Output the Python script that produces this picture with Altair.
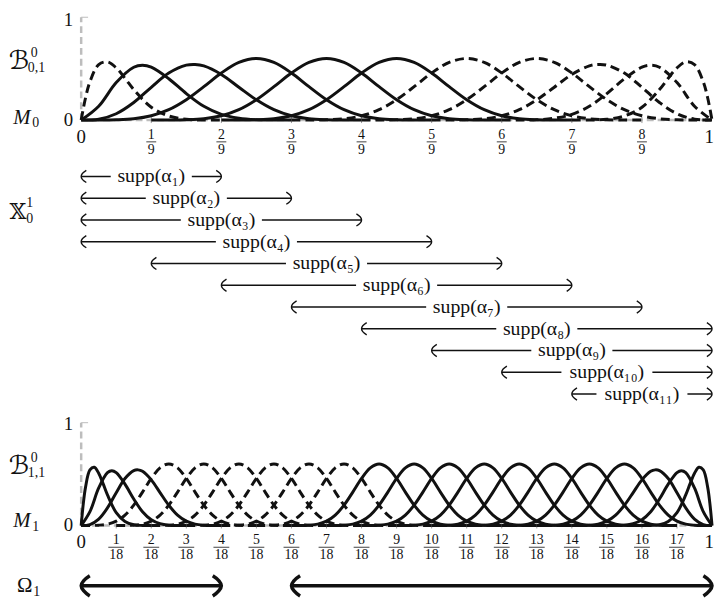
import altair as alt
import pandas as pd

# ---------------- data ----------------
# basis-function shapes: positions in knot units (t) and heights (v)
P1_T = [0, 0.0625, 0.125, 0.25, 0.375, 0.5, 0.625, 0.75, 1, 1.25, 1.5, 1.75, 2]
P1_V = [0, 0.217, 0.373, 0.540, 0.566, 0.508, 0.407, 0.297, 0.125, 0.040, 0.008, 0.0005, 0]
P2_T = [0, 0.25, 0.5, 0.75, 0.875, 1, 1.25, 1.5, 1.75, 2, 2.25, 2.5, 2.75, 3]
P2_V = [0, 0.135, 0.365, 0.514, 0.533, 0.514, 0.402, 0.258, 0.134, 0.056, 0.018, 0.003, 0.0002, 0]
P3_T = [0, 0.25, 0.5, 0.75, 1, 1.25, 1.5, 1.625, 1.75, 2, 2.25, 2.5, 2.75, 3, 3.25, 3.5, 3.75, 4]
P3_V = [0, 0.009, 0.062, 0.171, 0.319, 0.457, 0.534, 0.541, 0.527, 0.444, 0.320, 0.197, 0.101,
        0.042, 0.013, 0.003, 0.0002, 0]
U_T = [0, 0.25, 0.5, 0.75, 1, 1.25, 1.5, 1.75, 2, 2.25, 2.5, 2.75, 3, 3.25, 3.5, 3.75, 4,
       4.25, 4.5, 4.75, 5]
U_V = [0, 0.0002, 0.003, 0.013, 0.042, 0.101, 0.198, 0.325, 0.458, 0.561, 0.599, 0.561, 0.458,
       0.325, 0.198, 0.101, 0.042, 0.013, 0.003, 0.0002, 0]

# level 0 (9 intervals)
L0_N = 9
L0_PROFILE = ["P1", "P2", "P3", "U", "U", "U", "U", "U", "P3r", "P2r", "P1r"]
L0_START = [0, 0, 0, 0, 1, 2, 3, 4, 5, 6, 7]
L0_STYLE = ["dashed", "solid", "solid", "solid", "solid", "solid",
            "dashed", "dashed", "dashed", "dashed", "dashed"]

# level 1 (18 intervals)
L1_N = 18
L1_PROFILE = ["P1", "P2", "P3", "U", "U", "U", "U", "U", "U", "U", "U", "U", "U", "U", "U", "U",
              "U", "P3r", "P2r", "P1r"]
L1_START = [0, 0, 0, 0, 1, 2, 3, 4, 5, 6, 7, 8, 9, 10, 11, 12, 13, 14, 15, 16]
L1_STYLE = ["solid", "solid", "solid",
            "dashed", "dashed", "dashed", "dashed", "dashed", "dashed",
            "solid", "solid", "solid", "solid", "solid", "solid", "solid", "solid", "solid",
            "solid", "solid"]

# supports of alpha_1..alpha_11 (in ninths)
SUPP_START = [0, 0, 0, 0, 1, 2, 3, 4, 5, 6, 7]
SUPP_END = [2, 3, 4, 5, 6, 7, 8, 9, 9, 9, 9]

# Omega_1 pieces (in eighteenths)
OMEGA_START = [0, 6]
OMEGA_END = [4, 18]

TICKS9 = [1, 2, 3, 4, 5, 6, 7, 8]
TICKS18 = [1, 2, 3, 4, 5, 6, 7, 8, 9, 10, 11, 12, 13, 14, 15, 16, 17]

# ---------------- styling ----------------
SERIF = "Liberation Serif, DejaVu Serif"
MATH = "DejaVu Serif, DejaVu Sans"
INK = "#111111"
GREY = "#bdbdbd"

XS = alt.Scale(domain=[0, 1], nice=False, zero=False)
Y_TOP = alt.Scale(domain=[0, 1], range=[110, 6], nice=False, zero=False)
Y_BOT = alt.Scale(domain=[0, 1], range=[520, 416], nice=False, zero=False)
Y_ROWS = alt.Scale(domain=[1, 11], range=[167, 387], nice=False, zero=False)

LEFT_HEAD = "M0.85,-1 C0.35,-0.7 0,-0.25 0,0 C0,0.25 0.35,0.7 0.85,1"
RIGHT_HEAD = "M-0.85,-1 C-0.35,-0.7 0,-0.25 0,0 C0,0.25 -0.35,0.7 -0.85,1"
BOX = "M-1,-0.1 L1,-0.1 L1,0.1 L-1,0.1 Z"

PROFILES = {"P1": (P1_T, P1_V), "P2": (P2_T, P2_V), "P3": (P3_T, P3_V), "U": (U_T, U_V)}


def profile(name):
    t, v = PROFILES[name.rstrip("r")]
    if name.endswith("r"):
        length = t[-1]
        t = [length - a for a in reversed(t)]
        v = list(reversed(v))
    return t, v


def curve_table(profs, starts, styles, n, tag):
    rows = []
    for i, (p, s, st) in enumerate(zip(profs, starts, styles)):
        t, v = profile(p)
        for a, b in zip(t, v):
            rows.append({"fid": f"{tag}{i}", "x": (s + a) / n, "y": b, "style": st})
    return pd.DataFrame(rows)


def basis_layers(df, ys):
    out = []
    for st, dash in (("solid", None), ("dashed", [9, 5])):
        kw = dict(interpolate="catmull-rom", strokeWidth=3, color=INK)
        if dash:
            kw["strokeDash"] = dash
        out.append(
            alt.Chart(df[df["style"] == st]).mark_line(**kw).encode(
                x=alt.X("x:Q", scale=XS, axis=None),
                y=alt.Y("y:Q", scale=ys, axis=None),
                detail="fid:N",
            )
        )
    return out


def axis_layers(ys, ticks, den, bar_half):
    base = pd.DataFrame({"x0": [0.0], "x1": [1.0], "y0": [0.0], "y1": [1.0]})
    layers = [
        alt.Chart(base).mark_rule(color=GREY, strokeWidth=2.5, strokeDash=[7, 4]).encode(
            x=alt.X("x0:Q", scale=XS, axis=None), x2="x1:Q",
            y=alt.Y("y0:Q", scale=ys, axis=None)),
        alt.Chart(base).mark_rule(color=GREY, strokeWidth=2.5, strokeDash=[7, 4]).encode(
            x=alt.X("x0:Q", scale=XS, axis=None),
            y=alt.Y("y0:Q", scale=ys, axis=None), y2="y1:Q"),
        alt.Chart(base).mark_rule(color=GREY, strokeWidth=1).encode(
            x=alt.X("x0:Q", scale=XS, axis=None), x2=alt.value(7),
            y=alt.Y("y1:Q", scale=ys, axis=None)),
    ]
    tk = pd.DataFrame({"pos": [k / den for k in ticks], "num": [str(k) for k in ticks],
                       "den": [str(den)] * len(ticks), "base": [0.0] * len(ticks)})
    enc = dict(x=alt.X("pos:Q", scale=XS, axis=None), y=alt.Y("base:Q", scale=ys, axis=None))
    layers += [
        alt.Chart(tk).mark_rule(color="#9a9a9a", strokeWidth=1, yOffset=-3, y2Offset=3).encode(
            y2="base:Q", **enc),
        alt.Chart(tk).mark_text(font=SERIF, fontSize=14, color=INK, dy=15).encode(
            text="num:N", **enc),
        alt.Chart(tk).mark_text(font=SERIF, fontSize=14, color=INK, dy=30).encode(
            text="den:N", **enc),
        alt.Chart(tk).mark_rule(color=INK, strokeWidth=0.8, xOffset=-bar_half, x2Offset=bar_half,
                                yOffset=22).encode(x2="pos:Q", **enc),
    ]
    for pos, lab, dx in ((0.0, "0", 0), (1.0, "1", -3)):
        ends = pd.DataFrame({"pos": [pos], "lab": [lab], "base": [0.0]})
        layers.append(
            alt.Chart(ends).mark_text(font=SERIF, fontSize=19, color=INK, dy=17, dx=dx).encode(
                x=alt.X("pos:Q", scale=XS, axis=None), y=alt.Y("base:Q", scale=ys, axis=None),
                text="lab:N"))
    return layers


def txt(s, x, y, size, font=SERIF, style="normal", align="center"):
    return alt.Chart(pd.DataFrame({"a": [0]})).mark_text(
        text=s, font=font, fontSize=size, fontStyle=style, align=align,
        baseline="middle", color=INK).encode(x=alt.value(x), y=alt.value(y))


SUB = str.maketrans("0123456789", "₀₁₂₃₄₅₆₇₈₉")

supp = pd.DataFrame({
    "k": list(range(1, len(SUPP_START) + 1)),
    "start": [s / L0_N for s in SUPP_START],
    "end": [e / L0_N for e in SUPP_END],
})
supp["mid"] = (supp["start"] + supp["end"]) / 2
supp["label"] = ["supp(α" + str(k).translate(SUB) + ")" for k in supp["k"]]
supp["gap2"] = [(82 if k < 10 else 92) ** 2 for k in supp["k"]]

omega = pd.DataFrame({"start": [s / L1_N for s in OMEGA_START],
                      "end": [e / L1_N for e in OMEGA_END]})

sx = lambda f: alt.X(f, scale=XS, axis=None)
sy = alt.Y("k:Q", scale=Y_ROWS, axis=None)

arrow_layers = [
    alt.Chart(supp).mark_rule(color=INK, strokeWidth=1.4).encode(x=sx("start:Q"), x2="end:Q", y=sy),
    alt.Chart(supp).mark_point(shape=BOX, filled=True, color="white", opacity=1, strokeWidth=0).encode(
        x=sx("mid:Q"), y=sy, size=alt.Size("gap2:Q", scale=None)),
    alt.Chart(supp).mark_text(font=SERIF, fontSize=20, color=INK, baseline="middle").encode(
        x=sx("mid:Q"), y=sy, text="label:N"),
    alt.Chart(supp).mark_point(shape=LEFT_HEAD, size=150, filled=False, strokeWidth=1.4,
                               color=INK, opacity=1).encode(x=sx("start:Q"), y=sy),
    alt.Chart(supp).mark_point(shape=RIGHT_HEAD, size=150, filled=False, strokeWidth=1.4,
                               color=INK, opacity=1).encode(x=sx("end:Q"), y=sy),
    alt.Chart(omega).mark_rule(color=INK, strokeWidth=3.5).encode(
        x=sx("start:Q"), x2="end:Q", y=alt.value(581)),
    alt.Chart(omega).mark_point(shape=LEFT_HEAD, size=420, filled=False, strokeWidth=3.5,
                                color=INK, opacity=1).encode(x=sx("start:Q"), y=alt.value(581)),
    alt.Chart(omega).mark_point(shape=RIGHT_HEAD, size=420, filled=False, strokeWidth=3.5,
                                color=INK, opacity=1).encode(x=sx("end:Q"), y=alt.value(581)),
]

label_layers = [
    # B^0_{0,1}
    txt("ℬ", -63, 50, 26, font=MATH),
    txt("0", -51, 42, 14, align="left"),
    txt("0,1", -54, 57, 14, align="left"),
    txt("M", -60, 108, 21, style="italic"),
    txt("0", -46, 113, 14),
    txt("1", -13, 9, 19),
    txt("0", -13, 110, 19),
    # X^1_0
    txt("𝕏", -64, 203, 22, font=MATH),
    txt("1", -52, 194, 14),
    txt("0", -52, 210, 14),
    # B^0_{1,1}
    txt("ℬ", -63, 460, 26, font=MATH),
    txt("0", -51, 452, 14, align="left"),
    txt("1,1", -54, 467, 14, align="left"),
    txt("M", -60, 516, 21, style="italic"),
    txt("1", -46, 522, 14),
    txt("1", -13, 417, 19),
    txt("0", -13, 520, 19),
    # Omega_1
    txt("Ω", -57, 581, 21),
    txt("1", -45, 587, 14),
]

top = curve_table(L0_PROFILE, L0_START, L0_STYLE, L0_N, "a")
bot = curve_table(L1_PROFILE, L1_START, L1_STYLE, L1_N, "b")

layers = (
    axis_layers(Y_TOP, TICKS9, L0_N, 5)
    + basis_layers(top, Y_TOP)
    + axis_layers(Y_BOT, TICKS18, L1_N, 8)
    + basis_layers(bot, Y_BOT)
    + arrow_layers
    + label_layers
)

chart = (
    alt.layer(*layers)
    .resolve_scale(y="independent")
    .properties(width=638, height=595,
                autosize=alt.AutoSizeParams(type="none"),
                padding={"left": 74, "right": 3, "top": 0, "bottom": 0})
    .configure_view(strokeWidth=0)
)

chart.save("out.html", embed_options={"renderer": "svg", "actions": False})
